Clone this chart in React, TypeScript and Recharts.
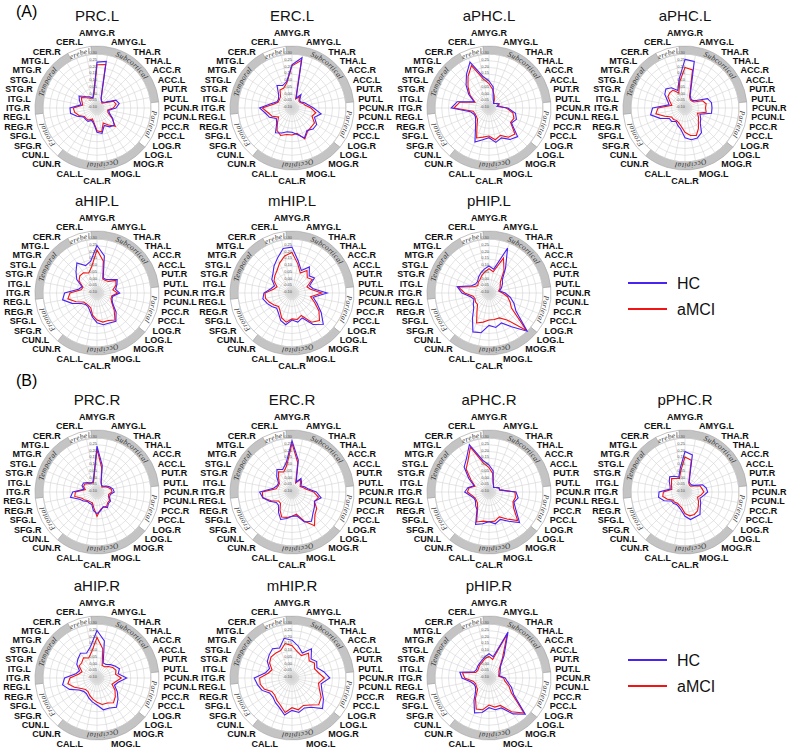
import React from 'react';
import { RadarChart, Radar, PolarGrid, PolarAngleAxis, PolarRadiusAxis, PieChart, Pie, Cell } from 'recharts';

const REGIONS = ['AMYG.R','AMYG.L','THA.R','THA.L','ACC.R','ACC.L','PUT.R','PUT.L','PCUN.R','PCUN.L','PCC.R','PCC.L','LOG.R','LOG.L','MOG.R','MOG.L','CAL.R','CAL.L','CUN.R','CUN.L','SFG.R','SFG.L','REG.R','REG.L','ITG.R','ITG.L','STG.R','STG.L','MTG.R','MTG.L','CER.R','CER.L'];
const BANDS = ['Subcortical','Parietal','Occipital','Frontal','Temporal','Cerebella'];
const BAND_SIZES = [8,4,8,4,6,2];
const RADIAL_TICK_LABELS = ['-0.10','-0.05','0.00','0.05','0.10','0.15','0.20','0.25','0.30'];
const SERIES = ['HC','aMCI'];

const TITLES = ['PRC.L','ERC.L','aPHC.L','aPHC.L','aHIP.L','mHIP.L','pHIP.L','PRC.R','ERC.R','aPHC.R','pPHC.R','aHIP.R','mHIP.R','pHIP.R'];

const PRC_L_HC = [0.85,0.88,0.2,0.15,0.15,0.2,0.38,0.42,0.35,0.22,0.25,0.35,0.45,0.42,0.35,0.48,0.45,0.3,0.25,0.3,0.3,0.3,0.4,0.5,0.5,0.3,0.35,0.4,0.3,0.25,0.2,0.3];
const PRC_L_AMCI = [0.8,0.82,0.2,0.15,0.13,0.18,0.33,0.36,0.3,0.2,0.22,0.33,0.48,0.38,0.3,0.45,0.42,0.28,0.22,0.27,0.28,0.28,0.36,0.42,0.44,0.27,0.3,0.35,0.27,0.22,0.2,0.28];
const ERC_L_HC = [0.8,0.95,0.2,0.3,0.2,0.2,0.25,0.3,0.4,0.55,0.45,0.55,0.55,0.5,0.6,0.5,0.45,0.45,0.5,0.55,0.4,0.35,0.45,0.5,0.6,0.4,0.3,0.3,0.35,0.5,0.45,0.5];
const ERC_L_AMCI = [0.78,0.9,0.18,0.25,0.18,0.18,0.22,0.25,0.35,0.45,0.4,0.5,0.5,0.52,0.62,0.48,0.5,0.5,0.55,0.5,0.38,0.3,0.4,0.45,0.55,0.35,0.28,0.28,0.3,0.4,0.4,0.48];
const APHC_L_HC = [0.5,0.4,0.2,0.15,0.12,0.15,0.2,0.15,0.35,0.5,0.55,0.5,0.75,0.7,0.6,0.65,0.55,0.6,0.68,0.45,0.35,0.3,0.3,0.35,0.7,0.6,0.3,0.45,0.6,0.75,0.92,0.6];
const APHC_L_AMCI = [0.45,0.35,0.25,0.18,0.12,0.15,0.2,0.18,0.32,0.45,0.5,0.48,0.68,0.65,0.55,0.6,0.52,0.55,0.6,0.4,0.3,0.28,0.28,0.3,0.65,0.55,0.28,0.42,0.55,0.7,0.85,0.55];
const PPHC_L_HC = [0.9,0.88,0.25,0.2,0.2,0.25,0.45,0.5,0.5,0.5,0.3,0.35,0.4,0.55,0.6,0.6,0.55,0.4,0.35,0.3,0.35,0.35,0.5,0.65,0.6,0.3,0.35,0.45,0.5,0.45,0.35,0.55];
const PPHC_L_AMCI = [0.75,0.72,0.22,0.18,0.18,0.2,0.35,0.4,0.38,0.4,0.25,0.3,0.35,0.45,0.55,0.52,0.45,0.35,0.3,0.28,0.3,0.3,0.4,0.55,0.5,0.25,0.3,0.38,0.4,0.4,0.3,0.5];
const AHIP_L_HC = [0.88,0.7,0.3,0.3,0.35,0.45,0.4,0.35,0.42,0.3,0.3,0.35,0.5,0.63,0.6,0.6,0.55,0.45,0.35,0.3,0.3,0.35,0.5,0.65,0.6,0.35,0.3,0.45,0.55,0.67,0.55,0.6];
const AHIP_L_AMCI = [0.8,0.6,0.28,0.28,0.3,0.42,0.38,0.3,0.38,0.28,0.28,0.33,0.45,0.6,0.55,0.55,0.5,0.42,0.3,0.28,0.28,0.3,0.42,0.55,0.5,0.3,0.28,0.4,0.45,0.45,0.4,0.5];
const MHIP_L_HC = [0.85,0.6,0.45,0.58,0.45,0.5,0.35,0.4,0.65,0.4,0.5,0.65,0.82,0.7,0.5,0.55,0.5,0.6,0.55,0.45,0.4,0.45,0.5,0.55,0.52,0.4,0.35,0.45,0.5,0.6,0.7,0.84];
const MHIP_L_AMCI = [0.75,0.55,0.4,0.5,0.4,0.45,0.3,0.35,0.55,0.35,0.45,0.6,0.72,0.65,0.45,0.5,0.48,0.55,0.5,0.4,0.35,0.4,0.45,0.5,0.5,0.35,0.3,0.4,0.45,0.5,0.6,0.7];
const PHIP_L_HC = [0.5,0.45,0.9,0.55,0.35,0.3,0.25,0.2,0.3,0.4,0.5,0.6,1.0,0.75,0.6,0.65,0.6,0.75,0.78,0.55,0.4,0.35,0.3,0.35,0.5,0.6,0.35,0.3,0.3,0.35,0.4,0.45];
const PHIP_L_AMCI = [0.45,0.4,0.7,0.5,0.3,0.25,0.22,0.18,0.25,0.35,0.42,0.5,0.98,0.6,0.5,0.5,0.5,0.55,0.6,0.4,0.3,0.3,0.28,0.3,0.45,0.58,0.3,0.25,0.28,0.3,0.35,0.4];
const PRC_R_HC = [0.85,0.5,0.2,0.15,0.15,0.2,0.25,0.3,0.32,0.25,0.25,0.3,0.3,0.35,0.3,0.35,0.4,0.35,0.25,0.25,0.25,0.3,0.35,0.5,0.45,0.25,0.3,0.3,0.25,0.2,0.2,0.3];
const PRC_R_AMCI = [0.8,0.45,0.2,0.15,0.13,0.18,0.22,0.27,0.28,0.22,0.23,0.28,0.28,0.32,0.3,0.33,0.45,0.3,0.22,0.22,0.23,0.27,0.3,0.42,0.4,0.22,0.27,0.27,0.22,0.2,0.18,0.28];
const ERC_R_HC = [0.95,0.6,0.2,0.3,0.25,0.2,0.25,0.3,0.45,0.55,0.45,0.5,0.55,0.65,0.6,0.45,0.45,0.5,0.55,0.45,0.35,0.35,0.45,0.55,0.6,0.35,0.3,0.3,0.4,0.5,0.45,0.55];
const ERC_R_AMCI = [0.9,0.55,0.18,0.28,0.22,0.18,0.22,0.27,0.4,0.5,0.45,0.55,0.6,0.75,0.58,0.42,0.45,0.48,0.5,0.4,0.3,0.3,0.42,0.55,0.55,0.3,0.28,0.28,0.35,0.45,0.4,0.5];
const APHC_R_HC = [0.5,0.4,0.2,0.15,0.12,0.15,0.2,0.2,0.5,0.55,0.5,0.6,0.8,0.65,0.55,0.6,0.55,0.6,0.65,0.4,0.35,0.3,0.3,0.35,0.45,0.4,0.3,0.45,0.65,0.75,0.95,0.6];
const APHC_R_AMCI = [0.45,0.35,0.2,0.15,0.12,0.15,0.2,0.2,0.48,0.5,0.48,0.55,0.75,0.6,0.5,0.55,0.55,0.55,0.6,0.38,0.3,0.28,0.28,0.32,0.4,0.38,0.28,0.4,0.6,0.7,0.9,0.55];
const PPHC_R_HC = [0.75,0.7,0.2,0.18,0.18,0.22,0.35,0.4,0.42,0.35,0.3,0.35,0.4,0.5,0.5,0.52,0.45,0.35,0.3,0.28,0.3,0.3,0.42,0.5,0.48,0.28,0.3,0.35,0.4,0.35,0.3,0.45];
const PPHC_R_AMCI = [0.65,0.6,0.18,0.15,0.15,0.2,0.3,0.32,0.35,0.3,0.25,0.3,0.35,0.42,0.45,0.45,0.4,0.3,0.27,0.25,0.27,0.27,0.35,0.42,0.4,0.25,0.27,0.3,0.35,0.3,0.27,0.4];
const AHIP_R_HC = [0.88,0.7,0.3,0.3,0.35,0.4,0.45,0.4,0.55,0.4,0.35,0.45,0.55,0.65,0.6,0.6,0.5,0.45,0.4,0.35,0.35,0.4,0.55,0.65,0.6,0.4,0.35,0.45,0.5,0.55,0.5,0.6];
const AHIP_R_AMCI = [0.75,0.55,0.25,0.25,0.3,0.35,0.38,0.35,0.45,0.35,0.3,0.4,0.48,0.55,0.5,0.5,0.45,0.4,0.35,0.3,0.3,0.35,0.45,0.55,0.5,0.35,0.3,0.4,0.4,0.45,0.4,0.5];
const MHIP_R_HC = [0.7,0.6,0.5,0.65,0.5,0.55,0.5,0.6,0.7,0.55,0.6,0.7,0.8,0.65,0.6,0.65,0.6,0.7,0.6,0.55,0.5,0.5,0.6,0.65,0.7,0.5,0.45,0.55,0.6,0.65,0.6,0.75];
const MHIP_R_AMCI = [0.6,0.5,0.45,0.55,0.45,0.5,0.45,0.5,0.6,0.5,0.55,0.65,0.7,0.6,0.55,0.6,0.55,0.65,0.55,0.5,0.45,0.45,0.55,0.6,0.6,0.45,0.4,0.5,0.55,0.55,0.55,0.65];
const PHIP_R_HC = [0.45,0.4,0.92,0.5,0.3,0.25,0.22,0.2,0.3,0.35,0.45,0.55,0.95,0.8,0.6,0.6,0.55,0.65,0.7,0.5,0.35,0.3,0.3,0.35,0.5,0.55,0.3,0.28,0.3,0.32,0.35,0.4];
const PHIP_R_AMCI = [0.4,0.35,0.88,0.45,0.28,0.22,0.2,0.18,0.27,0.3,0.4,0.5,0.92,0.75,0.55,0.55,0.5,0.6,0.62,0.45,0.3,0.28,0.27,0.3,0.45,0.5,0.27,0.25,0.27,0.3,0.32,0.37];

const HC_SERIES = [PRC_L_HC, ERC_L_HC, APHC_L_HC, PPHC_L_HC, AHIP_L_HC, MHIP_L_HC, PHIP_L_HC, PRC_R_HC, ERC_R_HC, APHC_R_HC, PPHC_R_HC, AHIP_R_HC, MHIP_R_HC, PHIP_R_HC];
const AMCI_SERIES = [PRC_L_AMCI, ERC_L_AMCI, APHC_L_AMCI, PPHC_L_AMCI, AHIP_L_AMCI, MHIP_L_AMCI, PHIP_L_AMCI, PRC_R_AMCI, ERC_R_AMCI, APHC_R_AMCI, PPHC_R_AMCI, AHIP_R_AMCI, MHIP_R_AMCI, PHIP_R_AMCI];

const HC_COLOR = '#4a22f2';
const AMCI_COLOR = '#f21414';
const W = 260, H = 200, CX = 130, CY = 100;
const GRID_R = 54, BAND_IN = 54, BAND_OUT = 62, LABEL_R = 67, LABEL_DY = 9.4;
const COL_X = [97, 292, 489, 685];
const ROW_Y = [108, 293, 492, 678];
const STEP = 360 / REGIONS.length;
const FONT = "'Liberation Sans', Arial, sans-serif";

const RegionTick = (props: any) => {
  const { payload } = props;
  const n = REGIONS.length;
  const i = REGIONS.indexOf(payload.value);
  let x = CX, y = CY, anchor = 'middle';
  if (i === 0) { y = CY - 75; }
  else if (i === n / 2) { y = CY + 73; }
  else {
    const right = i < n / 2;
    const dy = right ? (i - n / 4) * LABEL_DY : (3 * n / 4 - i) * LABEL_DY;
    const dx = Math.sqrt(Math.max(LABEL_R * LABEL_R - dy * dy, 0));
    x = right ? CX + Math.max(dx, 14) : CX - Math.max(dx, 14);
    y = CY + dy;
    anchor = right ? 'start' : 'end';
  }
  return (
    <text x={x} y={y} textAnchor={anchor} dominantBaseline="central"
      fontFamily={FONT} fontWeight="bold" fontSize={9} fill="#111">
      {payload.value}
    </text>
  );
};

const makeBandLabel = (chartIdx: number) => (props: any) => {
  const { cx, cy, startAngle, endAngle, index } = props;
  const r = (BAND_IN + BAND_OUT) / 2;
  const p = (deg: number) => [cx + r * Math.cos(-deg * Math.PI / 180), cy + r * Math.sin(-deg * Math.PI / 180)];
  const [x1, y1] = p(startAngle);
  const [x2, y2] = p(endAngle);
  const large = Math.abs(startAngle - endAngle) > 180 ? 1 : 0;
  const id = `band-${chartIdx}-${index}`;
  return (
    <g key={id}>
      <defs>
        <path id={id} d={`M ${x1} ${y1} A ${r} ${r} 0 ${large} 1 ${x2} ${y2}`} />
      </defs>
      <text fontFamily="'Liberation Serif', 'Times New Roman', serif" fontStyle="italic" fontSize={7.5}
        fill="#333" letterSpacing={0.5} dominantBaseline="central">
        <textPath href={`#${id}`} startOffset="50%" textAnchor="middle">{BANDS[index]}</textPath>
      </text>
    </g>
  );
};

const Panel = ({ idx }: { idx: number }) => {
  const row = idx < 4 ? 0 : idx < 7 ? 1 : idx < 11 ? 2 : 3;
  const col = idx < 4 ? idx : idx < 7 ? idx - 4 : idx < 11 ? idx - 7 : idx - 11;
  const cx0 = COL_X[col], cy0 = ROW_Y[row];
  const data = REGIONS.map((region, i) => ({ region, hc: HC_SERIES[idx][i], amci: AMCI_SERIES[idx][i] }));
  const bandData = BANDS.map((name, i) => ({ name, value: BAND_SIZES[i] }));
  const start = 90 + STEP / 2;
  const ticks = RADIAL_TICK_LABELS.map((_, i) => i / (RADIAL_TICK_LABELS.length - 1));
  return (
    <>
      <div style={{ position: 'absolute', left: cx0 - 60, top: cy0 - 101, width: 120, textAlign: 'center',
        fontFamily: FONT, fontSize: 15, lineHeight: '17px', color: '#111' }}>
        {TITLES[idx]}
      </div>
      <div style={{ position: 'absolute', left: cx0 - CX, top: cy0 - CY, width: W, height: H }}>
        <div style={{ position: 'absolute', left: 0, top: 0 }}>
          <PieChart width={W} height={H} margin={{ top: 0, right: 0, bottom: 0, left: 0 }}>
            <Pie data={bandData} dataKey="value" cx={CX} cy={CY} innerRadius={BAND_IN} outerRadius={BAND_OUT}
              startAngle={start} endAngle={start - 360} isAnimationActive={false} stroke="#aaaaaa" strokeWidth={0.7}
              label={makeBandLabel(idx)} labelLine={false}>
              {bandData.map((d, i) => <Cell key={d.name} fill={i % 2 === 0 ? '#c4c4c4' : '#ffffff'} />)}
            </Pie>
            <Pie data={[{ name: 'core', value: 1 }]} dataKey="value" cx={CX} cy={CY} innerRadius={0} outerRadius={6}
              isAnimationActive={false} stroke="none" fill="#e2e2e2" />
          </PieChart>
        </div>
        <div style={{ position: 'absolute', left: 0, top: 0 }}>
          <RadarChart width={W} height={H} cx={CX} cy={CY} outerRadius={GRID_R} data={data}
            margin={{ top: 0, right: 0, bottom: 0, left: 0 }}>
            <PolarGrid gridType="circle" stroke="#d4d4d4" strokeWidth={0.6} />
            <PolarAngleAxis dataKey="region" tick={RegionTick} tickLine={false} axisLine={false} />
            <PolarRadiusAxis type="number" angle={90} domain={[0, 1]} ticks={ticks} axisLine={false} tickLine={false}
              orientation="left" tickFormatter={(v: number) => RADIAL_TICK_LABELS[Math.round(v * (RADIAL_TICK_LABELS.length - 1))]}
              tick={{ fontSize: 4, fill: '#555', fontFamily: FONT }} />
            <Radar name={SERIES[1]} dataKey="amci" stroke={AMCI_COLOR} strokeWidth={1.1} fill="none" fillOpacity={0}
              dot={false} isAnimationActive={false} />
            <Radar name={SERIES[0]} dataKey="hc" stroke={HC_COLOR} strokeWidth={1.1} fill="none" fillOpacity={0}
              dot={false} isAnimationActive={false} />
          </RadarChart>
        </div>
      </div>
    </>
  );
};

const LegendBox = ({ top }: { top: number }) => (
  <svg style={{ position: 'absolute', left: 620, top, overflow: 'visible' }} width={120} height={50}>
    <line x1={8} x2={47} y1={8} y2={8} stroke={HC_COLOR} strokeWidth={2} />
    <text x={57} y={8} dominantBaseline="central" fontFamily={FONT} fontSize={16} fill="#111">{SERIES[0]}</text>
    <line x1={8} x2={47} y1={34} y2={34} stroke={AMCI_COLOR} strokeWidth={2} />
    <text x={57} y={34} dominantBaseline="central" fontFamily={FONT} fontSize={16} fill="#111">{SERIES[1]}</text>
  </svg>
);

export default function App() {
  return (
    <div style={{ position: 'absolute', left: 0, top: 0, width: 787, height: 748, background: '#fff', overflow: 'hidden' }}>
      <div style={{ position: 'absolute', left: 16, top: 3, fontFamily: FONT, fontSize: 16 }}>(A)</div>
      <div style={{ position: 'absolute', left: 16, top: 372, fontFamily: FONT, fontSize: 16 }}>(B)</div>
      {TITLES.map((t, i) => <Panel key={i} idx={i} />)}
      <LegendBox top={275} />
      <LegendBox top={652} />
    </div>
  );
}
